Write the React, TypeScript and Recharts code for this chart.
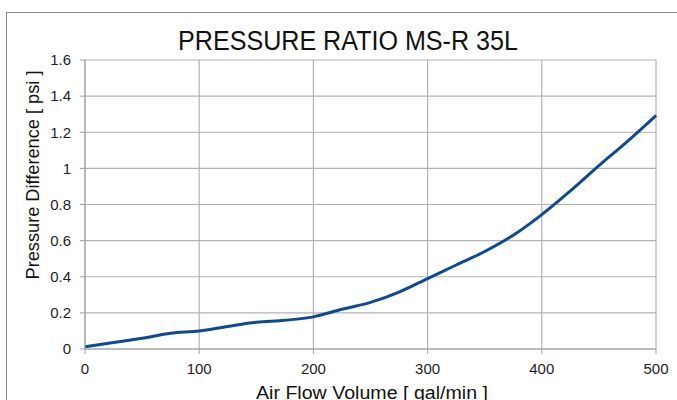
import React from 'react';
import { LineChart, Line, XAxis, YAxis, CartesianGrid } from 'recharts';

// values
const flow = [0, 25, 50, 75, 100, 125, 150, 175, 200, 225, 250, 275, 300, 325, 350, 375, 400, 425, 450, 475, 500];
const pressure = [0.013, 0.036, 0.06, 0.087, 0.1, 0.125, 0.148, 0.159, 0.178, 0.22, 0.258, 0.315, 0.39, 0.465, 0.54, 0.63, 0.744, 0.875, 1.015, 1.15, 1.293];
const xTicks = [0, 100, 200, 300, 400, 500];
const yTicks = [0, 0.2, 0.4, 0.6, 0.8, 1, 1.2, 1.4, 1.6];

const title = 'PRESSURE RATIO MS-R 35L';
const xLabel = 'Air Flow Volume [ gal/min ]';
const yLabel = 'Pressure Difference [ psi ]';

const data = flow.map((f, i) => ({ flow: f, pressure: pressure[i] }));

const App: React.FC = () => {
    return (
        <div
            style={{
                position: 'absolute',
                left: 0,
                top: 0,
                width: 677,
                height: 400,
                overflow: 'hidden',
                background: '#fff',
                fontFamily: '"Liberation Sans", Arial, sans-serif'
            }}
        >
            {/* cadre gris (coupé à droite et en bas) */}
            <div
                style={{
                    position: 'absolute',
                    left: 6,
                    top: 12,
                    width: 720,
                    height: 440,
                    border: '1px solid #8c8c8c'
                }}
            />
            <div style={{ position: 'absolute', left: 0, top: 0 }}>
                <LineChart width={677} height={400} data={data} margin={{ top: 60, right: 21, bottom: 21, left: 25 }}>
                    <CartesianGrid stroke="#b3b3b3" strokeWidth={1.2} />
                    <XAxis
                        dataKey="flow"
                        type="number"
                        domain={[0, 500]}
                        ticks={xTicks}
                        height={30}
                        tickSize={5}
                        tickMargin={9}
                        stroke="#a0a0a0"
                        tick={{ fill: '#1e1e1e', fontSize: 15 }}
                    />
                    <YAxis
                        type="number"
                        domain={[0, 1.6]}
                        ticks={yTicks}
                        width={60}
                        tickSize={5}
                        tickMargin={9}
                        stroke="#a0a0a0"
                        tick={{ fill: '#1e1e1e', fontSize: 15 }}
                    />
                    <Line
                        type="monotone"
                        dataKey="pressure"
                        stroke="#0c4a96"
                        strokeWidth={3}
                        dot={false}
                        isAnimationActive={false}
                    />
                </LineChart>
            </div>
            <svg width={677} height={400} style={{ position: 'absolute', left: 0, top: 0, pointerEvents: 'none' }}>
                <text x={348} y={50} textAnchor="middle" fontSize={27} fill="#111" textLength={340} lengthAdjust="spacingAndGlyphs">
                    {title}
                </text>
                <text x={372} y={399} textAnchor="middle" fontSize={18} fill="#111" textLength={232} lengthAdjust="spacingAndGlyphs">
                    {xLabel}
                </text>
                <text
                    x={39}
                    y={175}
                    textAnchor="middle"
                    fontSize={18}
                    fill="#111"
                    textLength={209}
                    lengthAdjust="spacingAndGlyphs"
                    transform="rotate(-90, 39, 175)"
                >
                    {yLabel}
                </text>
            </svg>
        </div>
    );
};

export default App;
